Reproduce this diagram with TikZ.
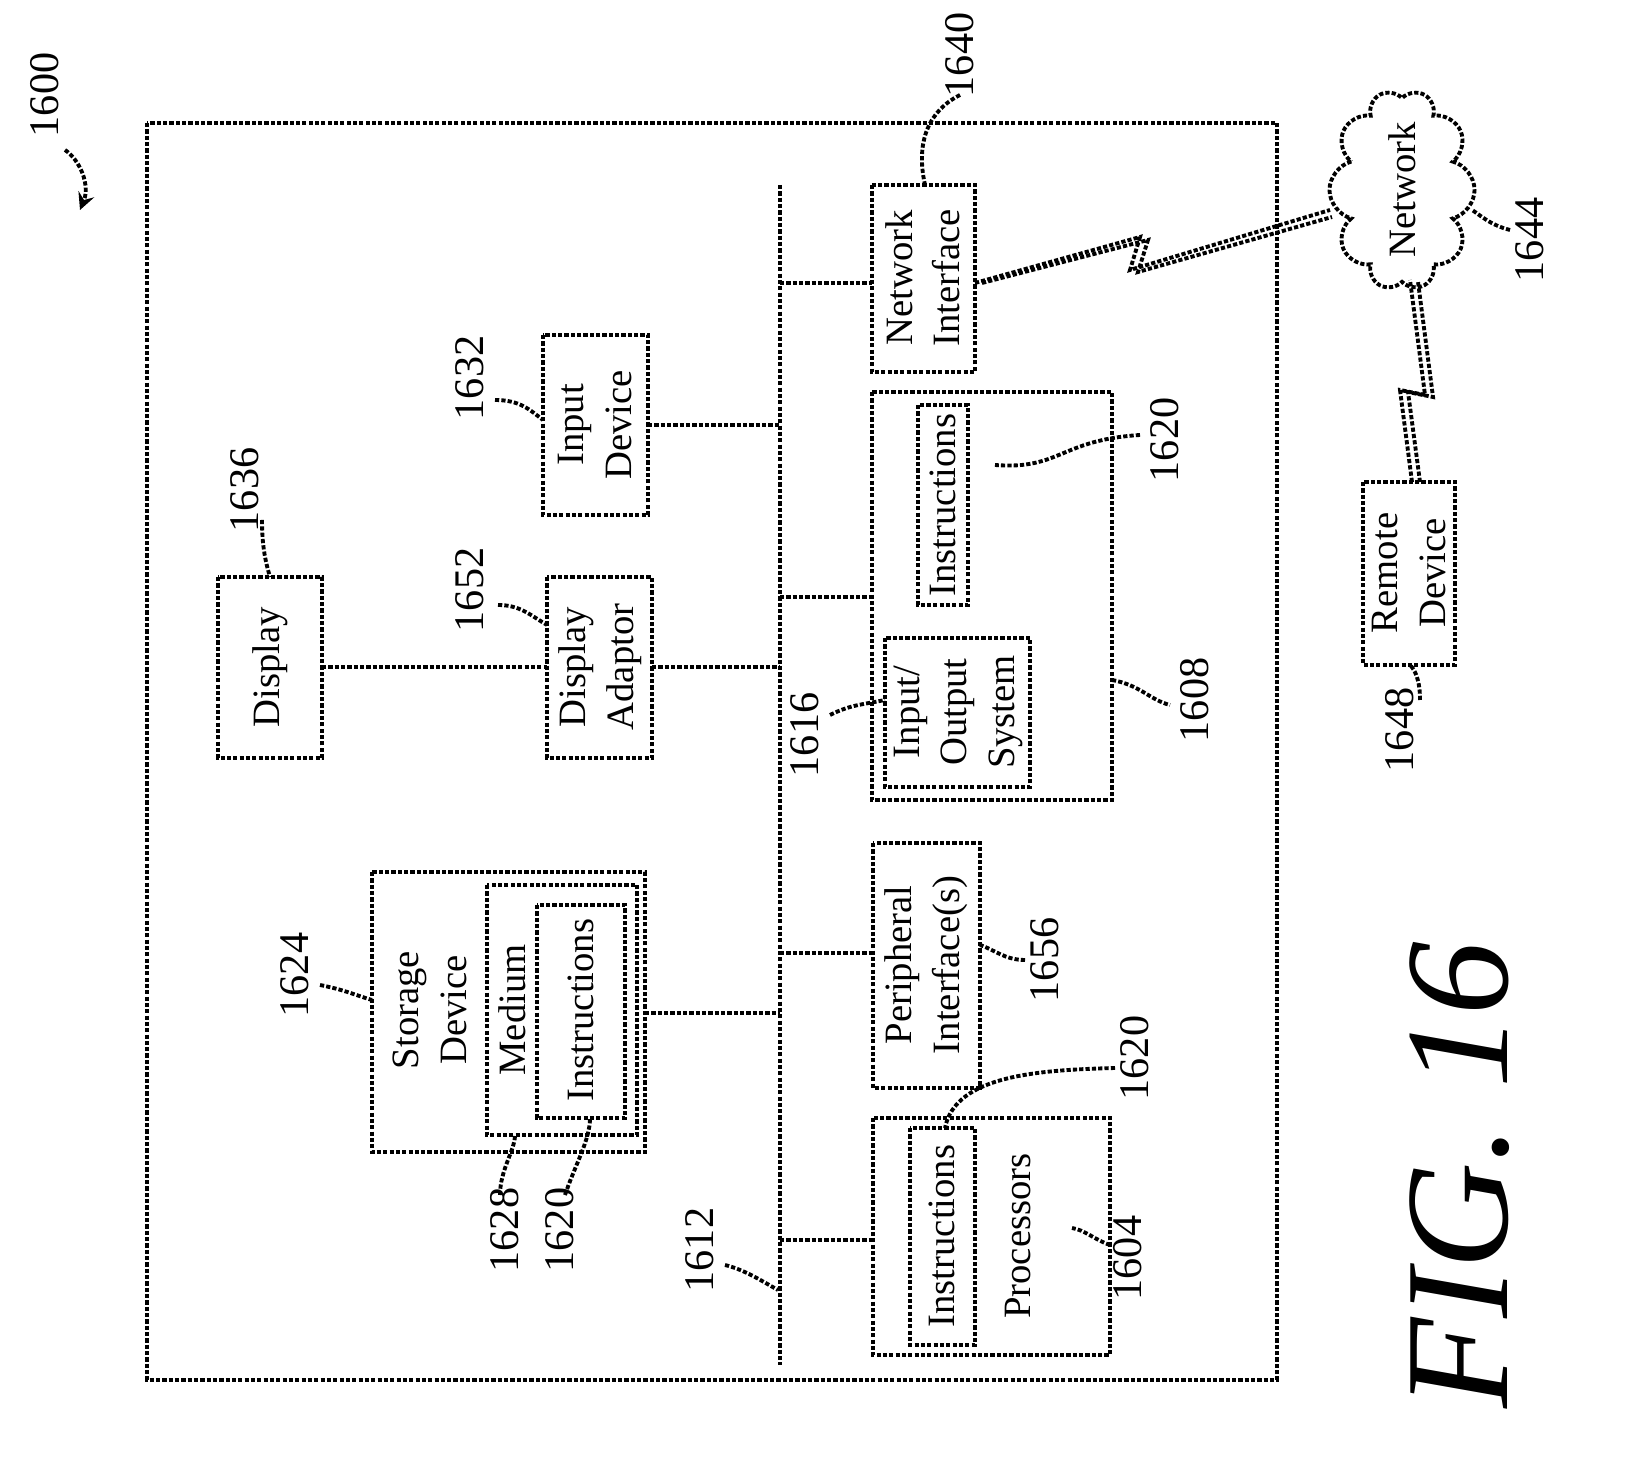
\documentclass[tikz,border=0pt]{standalone}
\usepackage{fontspec}
\setmainfont{Liberation Serif}
\usetikzlibrary{shapes.symbols}
\begin{document}
\begin{tikzpicture}[x=0.01cm,y=-0.01cm,
 dl/.style={line width=1.1pt,dash pattern=on 1.2pt off 0.6pt},
 bx/.style={dl,draw},
 t/.style={rotate=90,align=center,font=\fontsize{11}{13.5}\selectfont},
 lb/.style={rotate=90,font=\fontsize{12}{14}\selectfont}]
\useasboundingbox (0,0) rectangle (1652,1474);
\draw[bx] (147,123) rectangle (1277,1380);
\node[lb] (l1600) at (45,95) {1600};
\draw[dl,->,>=stealth] (65,150) .. controls (80,160) and (90,185) .. (80,210);
% bus
\coordinate (bt) at (780,185); \coordinate (bb) at (780,1365);
\draw[dl] (bt) -- (bb);
% boxes
\draw[bx] (872,185) rectangle (975,372); \node[t] (ni) at (923,278) {Network\\Interface};
\draw[bx] (543,335) rectangle (648,515); \node[t] (id) at (595,425) {Input\\Device};
\draw[bx] (218,577) rectangle (322,758); \node[t] (dp) at (270,667) {Display};
\draw[bx] (547,577) rectangle (652,758); \node[t] (da) at (600,667) {Display\\Adaptor};
\draw[bx] (872,392) rectangle (1112,800);
\draw[bx] (918,405) rectangle (968,605); \node[t] at (943,505) {Instructions};
\draw[bx] (885,638) rectangle (1030,787); \node[t] at (958,712) {Input/\\Output\\System};
\draw[bx] (372,872) rectangle (645,1152); \node[t] at (430,1010) {Storage\\Device};
\draw[bx] (487,885) rectangle (637,1135); \node[t] at (512,1010) {Medium};
\draw[bx] (537,905) rectangle (625,1118); \node[t] at (581,1010) {Instructions};
\draw[bx] (873,843) rectangle (980,1088); \node[t] at (926,965) {Peripheral\\Interface(s)};
\draw[bx] (873,1118) rectangle (1110,1355);
\draw[bx] (910,1128) rectangle (975,1345); \node[t] at (942,1236) {Instructions};
\node[t] at (1018,1236) {Processors};
\draw[bx] (1363,482) rectangle (1455,665); \node[t] (rd) at (1409,573) {Remote\\Device};
\node[cloud,draw,dl,cloud puffs=10,aspect=1.4,minimum width=2.0cm,minimum height=1.45cm,rotate=90,inner sep=0pt] (nw) at (1402,190) {};
\node[t] at (1402,190) {Network};
% connectors
\draw[dl] (780,283) -- (872,283);
\draw[dl] (648,425) -- (780,425);
\draw[dl] (322,667) -- (547,667);
\draw[dl] (652,667) -- (780,667);
\draw[dl] (780,597) -- (872,597);
\draw[dl] (645,1013) -- (780,1013);
\draw[dl] (780,953) -- (873,953);
\draw[dl] (780,1240) -- (873,1240);
% lightning
\draw[dl] (975,283) -- (1140,237) -- (1130,270) -- (1330,210);
\draw[dl] (982,283) -- (1148,240) -- (1138,272) -- (1332,217);
\draw[dl] (1412,482) -- (1400,390) -- (1425,395) -- (1410,280);
\draw[dl] (1420,482) -- (1408,392) -- (1433,397) -- (1418,282);
% labels
\node[lb] (l1640) at (960,55) {1640};
\draw[dl] (960,95) .. controls (930,110) and (915,140) .. (925,185);
\node[lb] (l1632) at (470,378) {1632};
\draw[dl] (495,400) .. controls (520,400) and (530,410) .. (543,420);
\node[lb] (l1636) at (245,490) {1636};
\draw[dl] (262,520) .. controls (262,545) and (265,560) .. (270,577);
\node[lb] (l1652) at (470,590) {1652};
\draw[dl] (498,605) .. controls (520,605) and (530,615) .. (547,625);
\node[lb] (l1620a) at (1165,440) {1620};
\draw[dl] (1140,435) .. controls (1060,440) and (1060,470) .. (995,465);
\node[lb] (l1608) at (1195,700) {1608};
\draw[dl] (1112,680) .. controls (1140,685) and (1150,700) .. (1170,705);
\node[lb] (l1616) at (805,735) {1616};
\draw[dl] (830,715) .. controls (850,705) and (860,705) .. (885,700);
\node[lb] (l1624) at (295,975) {1624};
\draw[dl] (320,985) .. controls (345,990) and (355,995) .. (372,1000);
\node[lb] (l1628) at (505,1230) {1628};
\draw[dl] (500,1195) .. controls (500,1170) and (515,1150) .. (515,1135);
\node[lb] (l1620b) at (560,1230) {1620};
\draw[dl] (565,1195) .. controls (575,1165) and (590,1140) .. (590,1118);
\node[lb] (l1656) at (1045,960) {1656};
\draw[dl] (1025,960) .. controls (1005,960) and (995,950) .. (980,945);
\node[lb] (l1620c) at (1135,1058) {1620};
\draw[dl] (1115,1068) .. controls (1040,1070) and (955,1075) .. (945,1128);
\node[lb] (l1604) at (1128,1258) {1604};
\draw[dl] (1110,1245) .. controls (1095,1240) and (1085,1230) .. (1072,1228);
\node[lb] (l1612) at (700,1250) {1612};
\draw[dl] (725,1265) .. controls (745,1270) and (760,1280) .. (778,1290);
\node[lb] (l1644) at (1530,240) {1644};
\draw[dl] (1510,230) .. controls (1490,225) and (1480,215) .. (1472,210);
\node[lb] (l1648) at (1400,730) {1648};
\draw[dl] (1420,700) .. controls (1420,680) and (1415,670) .. (1410,665);
\node[rotate=90,font=\fontsize{42}{44}\selectfont\itshape] at (1460,1175) {FIG. 16};
\end{tikzpicture}
\end{document}
